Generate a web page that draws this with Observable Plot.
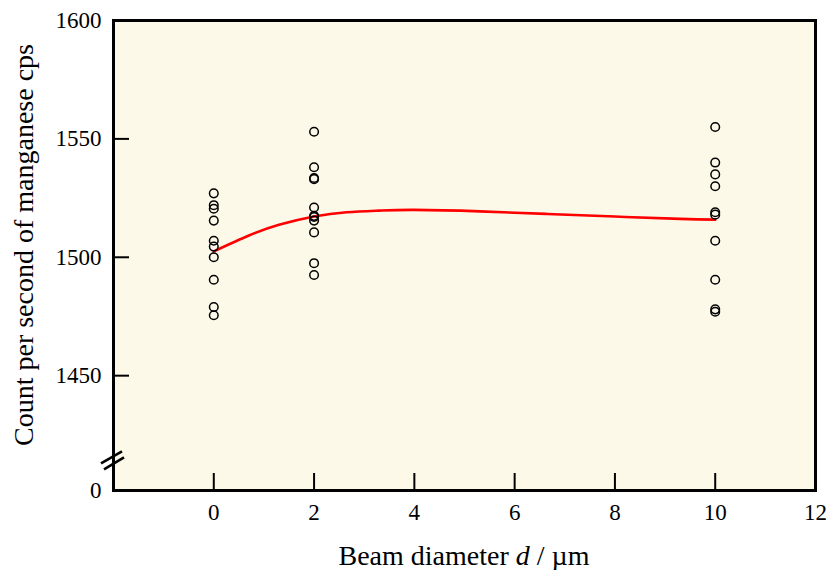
<!DOCTYPE html>
<html><head><meta charset="utf-8">
<script src="https://cdn.jsdelivr.net/npm/d3@7"></script>
<script src="https://cdn.jsdelivr.net/npm/@observablehq/plot@0.6"></script>
<style>body{margin:0;background:#fff;}</style>
</head><body><div id="chart"></div>
<script>
// Tick values
const xTicks = [0, 2, 4, 6, 8, 10, 12];
const yTicks = [1450, 1500, 1550, 1600];
const yBottom = 1401.5;   // bottom of broken axis, labelled "0"
const yBreak = 1414;      // where the axis break mark sits
// Measurements (counts per second) at each beam diameter
const diam0 = [1527, 1522, 1520.5, 1515.5, 1507, 1504.5, 1500, 1490.5, 1479, 1475.5];
const diam2 = [1553, 1538, 1533.5, 1533, 1521, 1517.5, 1517, 1515.5, 1510.5, 1497.5, 1492.5];
const diam10 = [1555, 1540, 1535, 1530, 1519, 1518, 1507, 1490.5, 1478, 1477];
// Fitted curve
const fitD = [0, 0.7, 1.3, 2, 2.65, 3.3, 4, 5.3, 6.65, 8, 9.3, 10];
const fitV = [1502.5, 1509.2, 1513.7, 1517.2, 1519, 1519.7, 1520, 1519.4, 1518.3, 1517.2, 1516.2, 1515.9];

const pts = [
  ...diam0.map(v => ({d: 0, v})),
  ...diam2.map(v => ({d: 2, v})),
  ...diam10.map(v => ({d: 10, v}))
];
const fit = fitD.map((d, i) => ({d, v: fitV[i]}));

const plot = Plot.plot({
  width: 828, height: 570,
  marginLeft: 113, marginRight: 13, marginTop: 20, marginBottom: 80,
  style: {fontFamily: "'Liberation Serif', 'Times New Roman', serif", fontSize: "23px", background: "white", color: "black", overflow: "visible"},
  x: {domain: [-2, 12]},
  y: {domain: [yBottom, 1600]},
  marks: [
    Plot.frame({fill: "#fdf9e9", stroke: null}),
    Plot.line(fit, {x: "d", y: "v", stroke: "#ff0000", strokeWidth: 2.6, curve: "natural"}),
    Plot.dot(pts, {x: "d", y: "v", r: 4.3, stroke: "black", strokeWidth: 1.5, fill: "none"}),
    // inward ticks
    Plot.axisX({ticks: xTicks, tickSize: 17, dy: -17, fill: "none", label: null, strokeWidth: 2}),
    Plot.axisY({ticks: yTicks, tickSize: 16, dx: 16, fill: "none", label: null, strokeWidth: 2}),
    // labels
    Plot.axisX({ticks: xTicks, tickSize: 0, tickPadding: 13, label: null, fontSize: 23}),
    Plot.axisY({ticks: [yBottom, ...yTicks], tickSize: 0, tickPadding: 12, label: null, fontSize: 23,
      tickFormat: d => d === yBottom ? "0" : String(d)}),
    Plot.frame({stroke: "black", strokeWidth: 3})
  ]
});

document.getElementById("chart").appendChild(plot);

const svg = d3.select(plot);
const xs = plot.scale("x"), ys = plot.scale("y");
const xl = xs.apply(-2), yb = ys.apply(yBreak);
// axis break marks
const brk = svg.append("g").attr("stroke", "black").attr("stroke-width", 2.6);
brk.append("line").attr("x1", xl - 12).attr("y1", yb + 3).attr("x2", xl + 9).attr("y2", yb - 9);
brk.append("line").attr("x1", xl - 9).attr("y1", yb + 9).attr("x2", xl + 11).attr("y2", yb - 3);

// axis titles
const xMid = (xs.apply(-2) + xs.apply(12)) / 2;
const xt = svg.append("text").attr("x", xMid).attr("y", 565).attr("text-anchor", "middle")
  .attr("font-size", 28).attr("fill", "black");
xt.append("tspan").text("Beam diameter ");
xt.append("tspan").attr("font-style", "italic").text("d");
xt.append("tspan").text(" / µm");

svg.append("text").attr("transform", "translate(33,245) rotate(-90)").attr("text-anchor", "middle")
  .attr("font-size", 28).attr("fill", "black").text("Count per second of manganese cps");
</script>
</body></html>
